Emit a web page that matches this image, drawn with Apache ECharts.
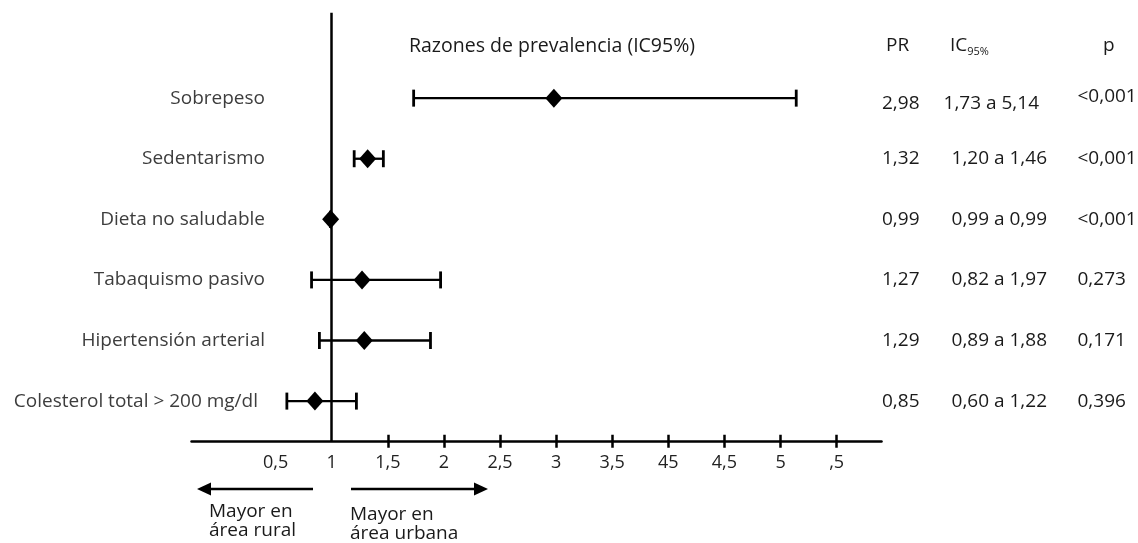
<!DOCTYPE html>
<html><head><meta charset="utf-8">
<script src="https://cdn.jsdelivr.net/npm/echarts@6/dist/echarts.min.js"></script>
<style>html,body{margin:0;padding:0;background:#fff}#c{width:1138px;height:543px}</style>
</head><body><div id="c"></div>
<script>
const categories = ['Sobrepeso','Sedentarismo','Dieta no saludable','Tabaquismo pasivo','Hipertensión arterial','Colesterol total > 200 mg/dl'];
const pr    = [2.98, 1.32, 0.99, 1.27, 1.29, 0.85];
const lower = [1.73, 1.20, 0.99, 0.82, 0.89, 0.60];
const upper = [5.14, 1.46, 0.99, 1.97, 1.88, 1.22];
const prLabels = ['2,98','1,32','0,99','1,27','1,29','0,85'];
const ciLabels = ['1,73 a 5,14','1,20 a 1,46','0,99 a 0,99','0,82 a 1,97','0,89 a 1,88','0,60 a 1,22'];
const pLabels  = ['<0,001','<0,001','<0,001','0,273','0,171','0,396'];
const tickValues = [0.5,1,1.5,2,2.5,3,3.5,4,4.5,5,5.5];
const tickLabels = ['0,5','1','1,5','2','2,5','3','3,5','45','4,5','5',',5'];
const tickMarks  = [1.5,2,2.5,3,3.5,4,4.5,5,5.5];
const rowIdx = categories.map((c,i)=>i);

const FONT = 'Open Sans';
const LBL = 19, VAL = 19;
const chart = echarts.init(document.getElementById('c'), null, {renderer:'canvas'});

function rowAxis(extra){
  return Object.assign({
    type:'value', inverse:true, min:-1.41, max:5.67,
    axisLine:{show:false}, axisTick:{show:false}, splitLine:{show:false}
  }, extra);
}

chart.setOption({
  animation:false,
  backgroundColor:'#fff',
  grid:{left:191.5, right:1138-881.5, top:12.7, bottom:543-441.7, containLabel:false, outerBoundsMode:'none'},
  xAxis:[{
    type:'value', min:-0.25, max:5.9, position:'bottom',
    axisLine:{show:true, onZero:false, lineStyle:{color:'#000', width:2.5}},
    axisTick:{show:true, customValues:tickMarks, length:6, lineStyle:{color:'#000', width:2.5}},
    axisLabel:{customValues:tickValues, formatter:v=>tickLabels[tickValues.indexOf(v)], margin:12,
      fontFamily:FONT, fontSize:18, color:'#222'},
    splitLine:{show:false}
  },{
    type:'value', min:-0.25, max:5.9, position:'bottom',
    axisLine:{show:false, onZero:false},
    axisTick:{show:true, inside:true, customValues:tickMarks, length:7, lineStyle:{color:'#000', width:2.5}},
    axisLabel:{show:false}, splitLine:{show:false}
  }],
  yAxis:[
    rowAxis({position:'left', axisLabel:{customValues:rowIdx, margin:-73.5, align:'right',
      formatter:v=> v===5 ? '{c|'+categories[v]+'}' : categories[v],
      fontFamily:FONT, fontSize:LBL, color:'#3d3d3d',
      rich:{c:{fontFamily:FONT, fontSize:LBL, color:'#3d3d3d', padding:[0,7,0,0]}}}}),
    rowAxis({position:'right', axisLabel:{customValues:rowIdx, margin:0.5, align:'left',
      formatter:v=> v===0 ? '{d|'+prLabels[v]+'}' : prLabels[v],
      fontFamily:FONT, fontSize:VAL, color:'#1a1a1a',
      rich:{d:{fontFamily:FONT, fontSize:VAL, color:'#1a1a1a', padding:[10,0,0,0]}}}}),
    rowAxis({position:'right', axisLabel:{customValues:rowIdx, margin:165.5, align:'right',
      formatter:v=> v===0 ? '{d|'+ciLabels[v]+'}' : ciLabels[v],
      fontFamily:FONT, fontSize:VAL, color:'#1a1a1a',
      rich:{d:{fontFamily:FONT, fontSize:VAL, color:'#1a1a1a', padding:[10,8,0,0]}}}}),
    rowAxis({position:'right', axisLabel:{customValues:rowIdx, margin:196, align:'left',
      formatter:v=> v===0 ? '{u|'+pLabels[v]+'}' : pLabels[v],
      fontFamily:FONT, fontSize:VAL, color:'#1a1a1a',
      rich:{u:{fontFamily:FONT, fontSize:VAL, color:'#1a1a1a', padding:[0,0,4,0]}}}})
  ],
  series:[{
    type:'custom',
    xAxisIndex:0, yAxisIndex:0,
    data: rowIdx.map(i=>[lower[i], upper[i], i]),
    encode:{x:[0,1], y:2},
    renderItem:function(params, api){
      const y = api.value(2);
      const a = api.coord([api.value(0), y]);
      const b = api.coord([api.value(1), y]);
      const h = 8.5;
      return {type:'group', children:[
        {type:'line', shape:{x1:a[0], y1:a[1], x2:b[0], y2:b[1]}, style:{stroke:'#000', lineWidth:2.3}},
        {type:'line', shape:{x1:a[0], y1:a[1]-h, x2:a[0], y2:a[1]+h}, style:{stroke:'#000', lineWidth:2.8}},
        {type:'line', shape:{x1:b[0], y1:b[1]-h, x2:b[0], y2:b[1]+h}, style:{stroke:'#000', lineWidth:2.8}}
      ]};
    },
    z:2
  },{
    type:'scatter',
    xAxisIndex:0, yAxisIndex:0,
    data: rowIdx.map(i=>[pr[i], i]),
    symbol:'diamond', symbolSize:[17,19],
    itemStyle:{color:'#000', opacity:1},
    z:3,
    markLine:{
      silent:true, symbol:['none','none'], label:{show:false},
      lineStyle:{color:'#000', width:2.5, type:'solid'},
      data:[{xAxis:1}]
    }
  }],
  graphic:[
    {type:'text', x:409, y:46, style:{text:'Razones de prevalencia (IC95%)', fontFamily:FONT, fontSize:19.5, fill:'#1a1a1a', verticalAlign:'middle'}},
    {type:'text', x:886, y:46, style:{text:'PR', fontFamily:FONT, fontSize:VAL, fill:'#1a1a1a', verticalAlign:'middle'}},
    {type:'text', x:950, y:46, style:{text:'{a|IC}{b|95%}', fontFamily:FONT, fontSize:VAL, fill:'#1a1a1a', verticalAlign:'middle',
      rich:{a:{fontFamily:FONT, fontSize:VAL, fill:'#1a1a1a'}, b:{fontFamily:FONT, fontSize:11, fill:'#1a1a1a', padding:[12,0,0,0]}}}},
    {type:'text', x:1103, y:46, style:{text:'p', fontFamily:FONT, fontSize:VAL, fill:'#1a1a1a', verticalAlign:'middle'}},
    // arrows
    {type:'line', shape:{x1:313, y1:489, x2:208, y2:489}, style:{stroke:'#000', lineWidth:2.5}},
    {type:'polygon', shape:{points:[[197,489],[211,482.5],[211,495.5]]}, style:{fill:'#000'}},
    {type:'line', shape:{x1:351, y1:489, x2:477, y2:489}, style:{stroke:'#000', lineWidth:2.5}},
    {type:'polygon', shape:{points:[[488,489],[474,482.5],[474,495.5]]}, style:{fill:'#000'}},
    {type:'text', x:209, y:521, style:{text:'Mayor en\nárea rural', fontFamily:FONT, fontSize:19, lineHeight:18.5, fill:'#1a1a1a', verticalAlign:'middle'}},
    {type:'text', x:350, y:524, style:{text:'Mayor en\nárea urbana', fontFamily:FONT, fontSize:19, lineHeight:18.5, fill:'#1a1a1a', verticalAlign:'middle'}}
  ]
});
</script>
</body></html>
